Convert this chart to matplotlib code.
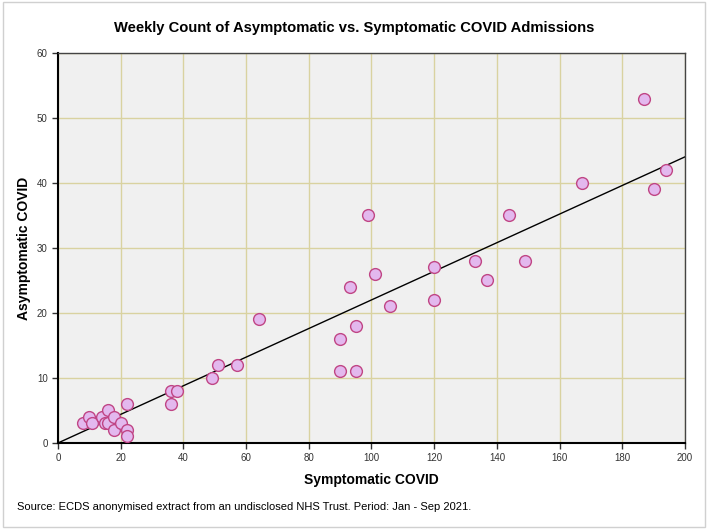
import numpy as np
import matplotlib.pyplot as plt
from matplotlib.patches import Rectangle

plt.rcParams['font.family'] = ['Liberation Sans', 'DejaVu Sans']

# weekly counts
symptomatic = [8, 10, 11, 14, 15, 16, 16, 18, 18, 20, 22, 22, 22,
               36, 36, 38, 49, 51, 57, 64, 90, 90, 93, 95, 95, 99,
               101, 106, 120, 120, 133, 137, 144, 149, 167, 187, 190, 194]
asymptomatic = [3, 4, 3, 4, 3, 5, 3, 4, 2, 3, 2, 1, 6,
                8, 6, 8, 10, 12, 12, 19, 16, 11, 24, 18, 11, 35,
                26, 21, 27, 22, 28, 25, 35, 28, 40, 53, 39, 42]

x = np.array(symptomatic, dtype=float)
y = np.array(asymptomatic, dtype=float)
# fit through the origin
slope = (x * y).sum() / (x * x).sum()

fig = plt.figure(figsize=(7.08, 5.29), dpi=100)
fig.patch.set_facecolor('white')
fig.add_artist(Rectangle((0.004, 0.004), 0.992, 0.992, transform=fig.transFigure,
                         fill=False, edgecolor='#d0d0d0', linewidth=1))

ax = fig.add_axes([0.0819, 0.1626, 0.8856, 0.7372])
ax.set_facecolor('#f0f0f0')

xs = np.array([0, 200])
ax.plot(xs, slope * xs, color='black', linewidth=1, zorder=2)
ax.scatter(x, y, s=72, facecolor='#e3b8ee', edgecolor='#c04585', linewidth=1, zorder=3)

ax.set_xlim(0, 200)
ax.set_ylim(0, 60)
ax.set_xticks(range(0, 201, 20))
ax.set_yticks(range(0, 61, 10))
ax.grid(True, color='#d9d2a0', linewidth=1)
ax.set_axisbelow(True)
ax.tick_params(labelsize=7, colors='#333333', length=4, width=1)
for side in ['left', 'bottom']:
    ax.spines[side].set_linewidth(1.5)
    ax.spines[side].set_color('black')
for side in ['top', 'right']:
    ax.spines[side].set_linewidth(1)
    ax.spines[side].set_color('#444444')

ax.set_xlabel('Symptomatic COVID', fontsize=10, fontweight='bold', labelpad=7)
ax.set_ylabel('Asymptomatic COVID', fontsize=10, fontweight='bold', labelpad=4)
fig.text(0.5, 0.948, 'Weekly Count of Asymptomatic vs. Symptomatic COVID Admissions',
         ha='center', va='center', fontsize=10.6, fontweight='bold')
fig.text(0.024, 0.042, 'Source: ECDS anonymised extract from an undisclosed NHS Trust. Period: Jan - Sep 2021.',
         ha='left', va='center', fontsize=8)

fig.savefig('out.png', dpi=100)
